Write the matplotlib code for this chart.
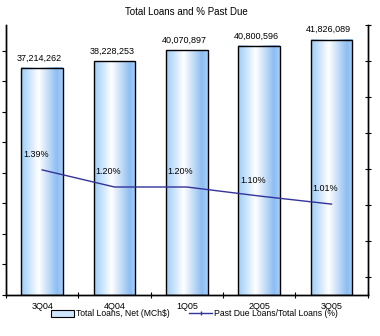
import numpy as np
import matplotlib
matplotlib.use("Agg")
import matplotlib.pyplot as plt
from matplotlib.colors import LinearSegmentedColormap
from matplotlib.patches import Patch
from matplotlib.lines import Line2D

plt.rcParams['font.family'] = ['Liberation Sans', 'DejaVu Sans']

categories = ["3Q04", "4Q04", "1Q05", "2Q05", "3Q05"]
total_loans = [37214262, 38228253, 40070897, 40800596, 41826089]
past_due_pct = [1.39, 1.20, 1.20, 1.10, 1.01]
loan_labels = ["37,214,262", "38,228,253", "40,070,897", "40,800,596", "41,826,089"]
pct_labels = ["1.39%", "1.20%", "1.20%", "1.10%", "1.01%"]

W, H = 380, 336
fig = plt.figure(figsize=(W / 100, H / 100), dpi=100)
ax1 = fig.add_axes([6 / W, 1 - 295 / H, (367.7 - 6) / W, (295 - 25) / H])
ax2 = ax1.twinx()

x = np.arange(len(categories))
bars = ax1.bar(x, total_loans, width=0.576, facecolor='none', edgecolor='black',
               linewidth=1.0, zorder=3)

cmap = LinearSegmentedColormap.from_list(
    'bargrad', [(0.0, '#9CCBF8'), (0.42, '#FFFFFF'), (0.86, '#8DBDF2'), (1.0, '#A9D1FA')])
grad = np.linspace(0, 1, 256).reshape(1, -1)
for b in bars:
    bx, bw, bh = b.get_x(), b.get_width(), b.get_height()
    ax1.imshow(grad, cmap=cmap, aspect='auto', extent=[bx, bx + bw, 0, bh],
               zorder=2, interpolation='bilinear')

for b, lab in zip(bars, loan_labels):
    ax1.annotate(lab, (b.get_x() + b.get_width() / 2, b.get_height()),
                 xytext=(-2, 7), textcoords='offset points', ha='center', va='center',
                 fontsize=6.5)

ax1.set_xlim(-0.5, len(categories) - 0.5)
ax1.set_ylim(0, 44.2e6)
ax1.set_yticks(np.arange(0, 40.1e6, 5e6))
ax1.set_yticklabels([])
ax1.tick_params(axis='y', direction='out', length=3, width=0.8)

ax1.set_xticks(np.arange(-0.5, len(categories) + 0.5, 1.0))
ax1.set_xticklabels([])
ax1.set_xticks(x, minor=True)
ax1.set_xticklabels(categories, minor=True, fontsize=6.5)
ax1.tick_params(axis='x', which='major', direction='inout', length=4, width=0.8)
ax1.tick_params(axis='x', which='minor', length=0, pad=5)

line, = ax2.plot(x, past_due_pct, color='#333399', linewidth=1.0, zorder=4)
for xi, v, lab in zip(x, past_due_pct, pct_labels):
    ax2.annotate(lab, (xi, v), xytext=(-4.5, 11), textcoords='offset points',
                 ha='center', va='center', fontsize=6.5)

ax2.set_ylim(0, 3.0)
ax2.set_yticks([3.0, 2.6, 2.2, 1.8, 1.4, 1.0, 0.6, 0.2])
ax2.set_yticklabels([])
ax2.tick_params(axis='y', direction='inout', length=5, width=0.8)

for a in (ax1, ax2):
    a.spines['top'].set_visible(False)
    for s in ('left', 'right', 'bottom'):
        a.spines[s].set_linewidth(1.0)
        a.spines[s].set_color('black')

ax1.set_title("Total Loans and % Past Due", fontsize=7, pad=7)

handles = [Patch(facecolor='#CFE5FB', edgecolor='black', linewidth=0.8),
           Line2D([0], [0], color='#333399', linewidth=1.0, marker='|', markersize=3)]
fig.legend(handles, ["Total Loans, Net (MCh$)", "Past Due Loans/Total Loans (%)"],
           loc='center', bbox_to_anchor=(194.5 / W, 1 - 314 / H), ncol=2, frameon=False,
           fontsize=6.2, handlelength=2.7, handleheight=0.7, columnspacing=2.2,
           handletextpad=0.2)

fig.savefig("out.png", dpi=100)
